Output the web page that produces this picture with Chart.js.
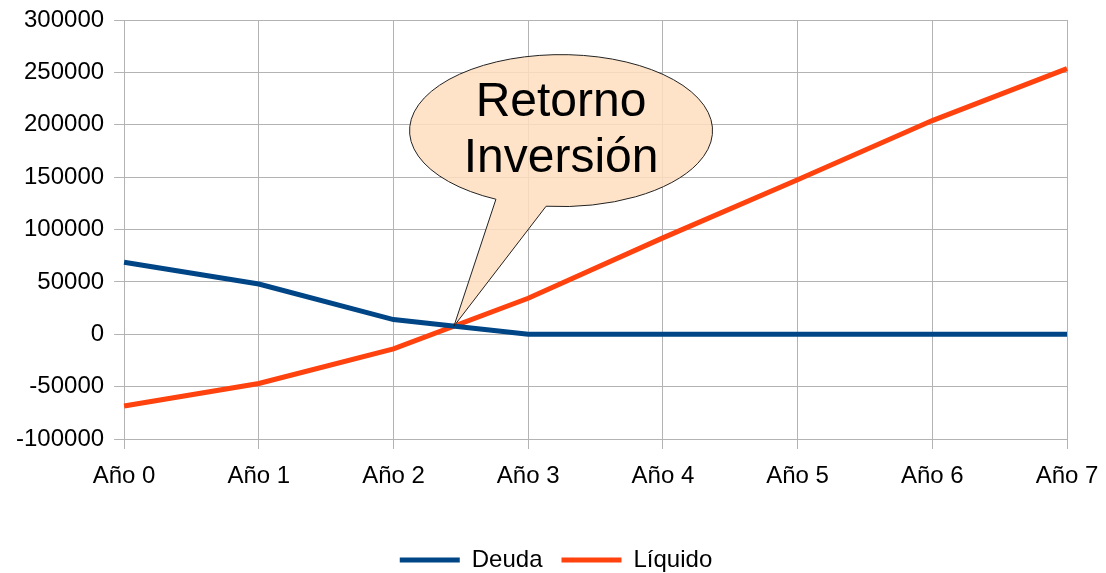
<!DOCTYPE html>
<html>
<head>
<meta charset="utf-8">
<script src="https://cdn.jsdelivr.net/npm/chart.js@4/dist/chart.umd.min.js"></script>
<style>
  html, body { margin: 0; padding: 0; background: #fff; }
  #wrap { width: 1106px; height: 573px; }
</style>
</head>
<body>
<div id="wrap"><canvas id="chart"></canvas></div>
<script>
const categories = ["Año 0", "Año 1", "Año 2", "Año 3", "Año 4", "Año 5", "Año 6", "Año 7"];
const deuda   = [68800, 48000, 14000, 0, 0, 0, 0, 0];
const liquido = [-68500, -47000, -14000, 34400, 92000, 147500, 204000, 253600];
const yTicks  = [-100000, -50000, 0, 50000, 100000, 150000, 200000, 250000, 300000];
const calloutLines = ["Retorno", "Inversión"];

// where the two lines cross between Año 2 and Año 3
function crossing() {
  for (let i = 0; i < deuda.length - 1; i++) {
    const d0 = deuda[i] - liquido[i], d1 = deuda[i + 1] - liquido[i + 1];
    if (d0 >= 0 && d1 <= 0) {
      const t = d0 / (d0 - d1);
      return { x: i + t, y: deuda[i] + (deuda[i + 1] - deuda[i]) * t };
    }
  }
  return { x: 0, y: 0 };
}

const calloutPlugin = {
  id: 'callout',
  afterLayout(chart) {
    // push the legend a bit lower, like the original
    chart.legend.top += 9;
    chart.legend.bottom += 9;
  },
  afterDatasetsDraw(chart) {
    const ctx = chart.ctx;
    const xs = chart.scales.x, ys = chart.scales.y;
    const hit = crossing();
    const tipX = xs.getPixelForValue(hit.x), tipY = ys.getPixelForValue(hit.y);
    const cx = xs.getPixelForValue(3.244), cy = ys.getPixelForValue(194400);
    const rx = 151.5, ry = 76;
    const aA = Math.atan2(0.899, -0.428);
    const aB = Math.atan2(0.987, -0.098);
    ctx.save();
    ctx.beginPath();
    ctx.ellipse(cx, cy, rx, ry, 0, aA, aB, false);
    ctx.lineTo(tipX, tipY);
    ctx.closePath();
    ctx.fillStyle = 'rgba(255, 222, 190, 0.85)';
    ctx.fill();
    ctx.lineWidth = 1;
    ctx.strokeStyle = '#222';
    ctx.stroke();
    ctx.fillStyle = '#000';
    ctx.font = '48px "Liberation Sans", Arial, sans-serif';
    ctx.textAlign = 'center';
    ctx.textBaseline = 'middle';
    ctx.fillText(calloutLines[0], cx, cy - 28);
    ctx.fillText(calloutLines[1], cx, cy + 28);
    ctx.restore();
  }
};

const gridColor = '#b3b3b3';
const font = { size: 24, family: '"Liberation Sans", Arial, sans-serif' };

new Chart(document.getElementById('chart'), {
  type: 'line',
  data: {
    labels: categories,
    datasets: [
      {
        label: 'Deuda',
        data: deuda,
        borderColor: '#004586',
        backgroundColor: '#004586',
        borderWidth: 5,
        pointRadius: 0,
        tension: 0
      },
      {
        label: 'Líquido',
        data: liquido,
        borderColor: '#ff420e',
        backgroundColor: '#ff420e',
        borderWidth: 5,
        pointRadius: 0,
        tension: 0
      }
    ]
  },
  options: {
    responsive: true,
    maintainAspectRatio: false,
    animation: false,
    layout: { padding: { left: 6, right: 0, top: 0, bottom: 0 } },
    plugins: {
      tooltip: { enabled: false },
      legend: {
        position: 'bottom',
        labels: {
          boxWidth: 60,
          boxHeight: 5,
          padding: 19,
          color: '#000',
          font: font,
          generateLabels(chart) {
            return Chart.defaults.plugins.legend.labels.generateLabels(chart)
              .map(l => Object.assign(l, { lineWidth: 0 }));
          }
        }
      }
    },
    scales: {
      x: {
        offset: false,
        afterFit(axis) { axis.height = 81; axis.paddingRight = 39; },
        grid: { color: gridColor, tickLength: 10, drawTicks: true },
        border: { color: gridColor },
        ticks: { color: '#000', padding: 13, maxRotation: 0, font: font }
      },
      y: {
        min: yTicks[0],
        max: yTicks[yTicks.length - 1],
        afterBuildTicks(axis) { axis.ticks = yTicks.map(v => ({ value: v })); },
        afterFit(axis) { axis.paddingTop = 20; },
        grid: { color: gridColor, tickLength: 10 },
        border: { color: gridColor },
        ticks: { color: '#000', padding: 10, callback: v => String(v), font: font }
      }
    }
  },
  plugins: [calloutPlugin]
});
</script>
</body>
</html>
